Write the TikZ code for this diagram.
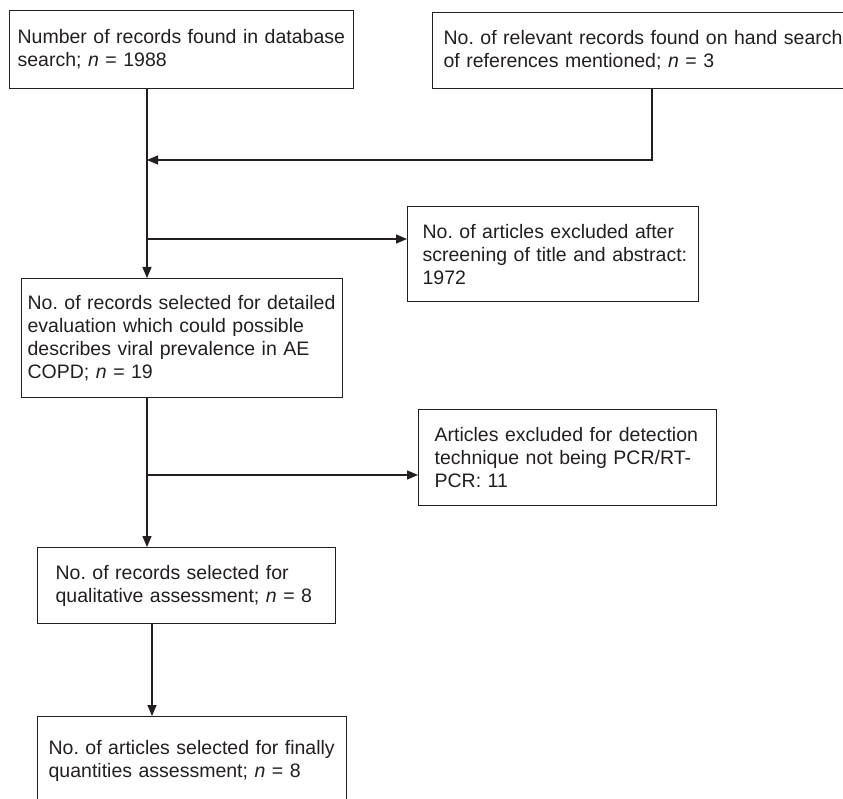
\documentclass[tikz,border=0pt]{standalone}
\usepackage{fontspec}
\setmainfont{Liberation Sans}
\usetikzlibrary{arrows.meta,calc}
\definecolor{ink}{HTML}{231F20}
\frenchspacing
\hyphenpenalty=10000
\exhyphenpenalty=10000
\tikzset{
  box/.style={draw=ink, line width=1.3pt, rectangle, anchor=north west, align=left,
    inner ysep=0pt, text=ink, font=\fontsize{19.5}{23}\selectfont\frenchspacing},
  arr/.style={draw=ink, line width=1.3pt, -{Triangle[length=11pt,width=9pt]}},
  conn/.style={draw=ink, line width=1.3pt}
}
\begin{document}
\begin{tikzpicture}[x=1pt,y=-1pt]
\useasboundingbox (0,0) rectangle (843,799);
\fill[white] (0,0) rectangle (843,799);
% boxes: (left,top), width, height, pad
\node[box, inner xsep=8pt, text width=328pt, minimum height=78pt] (b1) at (9,10)
  {\mbox{Number of records found in database}\\search; \textit{n} = 1988};
\node[box, inner xsep=11pt, text width=418pt, minimum height=76pt] (b2) at (432,12)
  {\mbox{No. of relevant records found on hand search}\\of references mentioned; \textit{n} = 3};
\node[box, inner xsep=15pt, text width=261pt, minimum height=95pt] (b3) at (407,206)
  {No. of articles excluded after\\\mbox{screening of title and abstract:}\\1972};
\node[box, inner xsep=6pt, text width=309pt, minimum height=119pt] (b4) at (21,278)
  {\mbox{No. of records selected for detailed}\\evaluation which could possible\\describes viral prevalence in AE\\COPD; \textit{n} = 19};
\node[box, inner xsep=16pt, text width=266pt, minimum height=96pt] (b5) at (418,409)
  {\mbox{Articles excluded for detection}\\\mbox{technique not being PCR/RT-}\\PCR: 11};
\node[box, inner xsep=18pt, text width=262pt, minimum height=76pt] (b6) at (37,547)
  {No. of records selected for\\qualitative assessment; \textit{n} = 8};
\node[box, inner xsep=11pt, text width=287pt, minimum height=88pt] (b7) at (37,716)
  {\mbox{No. of articles selected for finally}\\quantities assessment; \textit{n} = 8};
% junction coordinates
\coordinate (j1) at (147,160);
\coordinate (j2) at (147,239);
\coordinate (j3) at (147,475);
\coordinate (j4) at (152,670);
\coordinate (k1) at (652,160);
% connectors
\draw[arr] (b1.south -| j1) -- (b4.north -| j1);
\draw[arr] (b2.south -| k1) -- (k1) -- (j1);
\draw[arr] (j2) -- (b3.west |- j2);
\draw[arr] (b4.south -| j3) -- (b6.north -| j3);
\draw[arr] (j3) -- (b5.west |- j3);
\draw[arr] (b6.south -| j4) -- (b7.north -| j4);
\end{tikzpicture}
\end{document}
